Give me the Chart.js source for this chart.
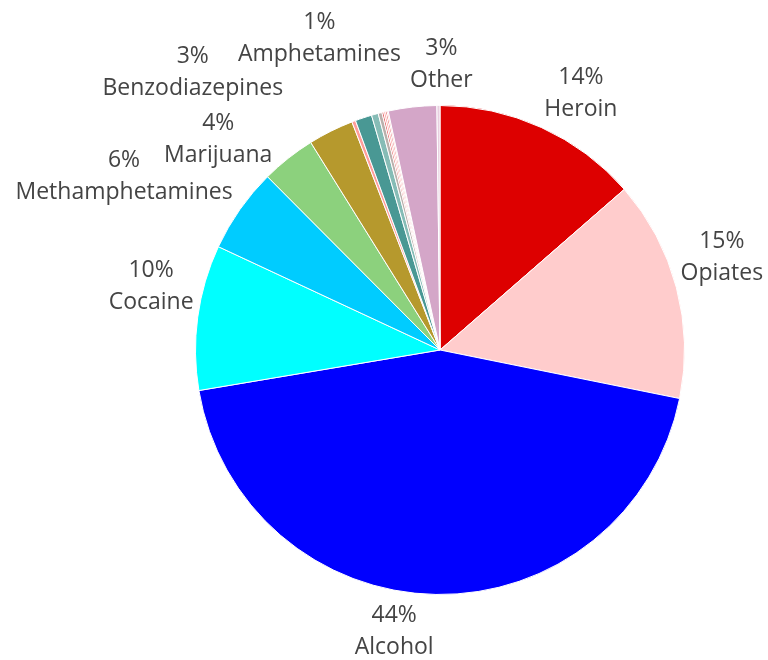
<!DOCTYPE html>
<html>
<head>
<meta charset="utf-8">
<script src="https://cdn.jsdelivr.net/npm/chart.js@4"></script>
<style>
  html, body { margin: 0; padding: 0; background: #fff; }
  canvas { display: block; }
</style>
</head>
<body>
<canvas id="drugChart" width="768" height="660"></canvas>
<script>
// share of admissions by primary substance, clockwise from the top
const substances = [
    "Heroin", "Opiates", "Alcohol", "Cocaine", "Methamphetamines", "Marijuana",
    "Benzodiazepines", "Tranquilizers", "Amphetamines", "Stimulants", "Barbiturates",
    "Sedatives", "Hallucinogens", "PCP", "Inhalants", "Other", "Methadone"
];
const shares = [
    13.6, 14.6, 44.2, 9.6, 5.6, 3.6,
    3.0, 0.25, 1.1, 0.45, 0.25,
    0.12, 0.12, 0.1, 0.08, 3.2, 0.2
];
const sliceColors = [
    "#DD0000", "#FFCCCC", "#0000FF", "#00FFFF", "#00CCFF", "#8CD17D",
    "#B6992D", "#FF9D9A", "#499894", "#86BCB6", "#BAB0AC",
    "#E15759", "#FF9D9A", "#E15759", "#FF9D9A", "#D4A6C8", "#E8CFE0"
];
// slices that get a label
const labelled = ["Heroin", "Opiates", "Alcohol", "Cocaine", "Methamphetamines",
    "Marijuana", "Benzodiazepines", "Amphetamines", "Other"];

// nudges for the outside labels so they don't collide
const labelNudge = {
    Heroin: [21, 7], Opiates: [2, -19], Alcohol: [-41, -8], Cocaine: [-2, -25],
    Methamphetamines: [-79, -7], Marijuana: [-42, 16], Benzodiazepines: [-118, -18],
    Amphetamines: [-30, -37], Other: [34, 2]
};

const total = shares.reduce((a, b) => a + b, 0);

const outsideLabels = {
    id: "outsideLabels",
    afterDatasetsDraw(chart) {
        const ctx = chart.ctx;
        const arcs = chart.getDatasetMeta(0).data;
        ctx.save();
        ctx.font = "23px 'Open Sans'";
        ctx.fillStyle = "#444444";
        ctx.textAlign = "center";
        ctx.textBaseline = "middle";
        arcs.forEach((arc, i) => {
            const name = substances[i];
            if (!labelled.includes(name)) return;
            const mid = (arc.startAngle + arc.endAngle) / 2;
            const r = arc.outerRadius + 45;
            const nudge = labelNudge[name];
            const x = arc.x + Math.cos(mid) * r + nudge[0];
            const y = arc.y + Math.sin(mid) * r + nudge[1];
            const pct = Math.round(shares[i] / total * 100) + "%";
            ctx.fillText(pct, x, y - 16);
            ctx.fillText(name, x, y + 16);
        });
        ctx.restore();
    }
};

new Chart(document.getElementById("drugChart"), {
    type: "pie",
    data: {
        labels: substances,
        datasets: [{
            data: shares,
            backgroundColor: sliceColors,
            borderColor: "#ffffff",
            borderWidth: 1
        }]
    },
    options: {
        responsive: false,
        animation: false,
        layout: { padding: { left: 195, right: 83, top: 105, bottom: 65 } },
        plugins: {
            legend: { display: false },
            tooltip: { enabled: false }
        }
    },
    plugins: [outsideLabels]
});
</script>
</body>
</html>
